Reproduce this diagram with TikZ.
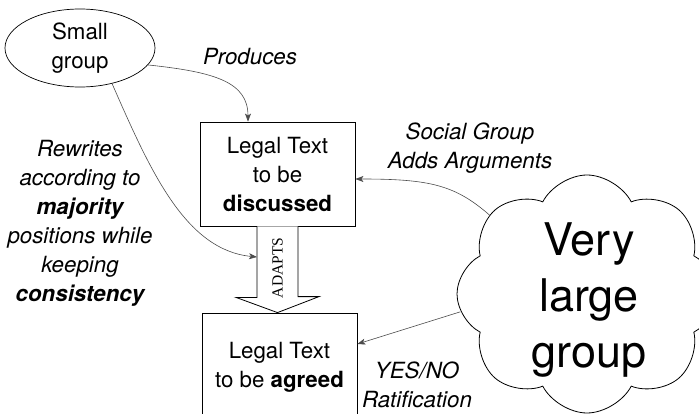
\documentclass[tikz,border=0pt]{standalone}
\usepackage{fontspec}
\setmainfont{TeX Gyre Heros}
\newfontfamily\adaptsfont{Liberation Serif}
\usetikzlibrary{shapes.geometric,shapes.symbols,arrows.meta}

\begin{document}
\begin{tikzpicture}[x=1pt,y=-1pt,
    every node/.style={font=\fontsize{22.3}{29}\selectfont, align=center},
    conn/.style={draw=black!70, line width=0.6pt, -{Stealth[length=8pt,width=6pt,inset=2pt]}},
    textbox/.style={draw, line width=0.8pt, minimum width=155pt, inner sep=0pt},
    note/.style={font=\fontsize{22.3}{29}\selectfont\itshape}]
    \useasboundingbox (0,0) rectangle (699,414);
    % the two groups
    \node[ellipse, draw, line width=0.7pt, minimum width=150pt, minimum height=78pt, inner sep=0pt] (small) at (80,48) {Small\\group};
    \node[cloud, draw, line width=0.8pt, cloud puffs=8, cloud puff arc=125, cloud ignores aspect,
          minimum width=260pt, minimum height=238pt, inner sep=0pt] (large) at (587,294) {};
    \node[font=\fontsize{45}{56}\selectfont] (largetxt) at (589,300) {Very\\large\\group};
    % the two texts
    \node[textbox, minimum height=104pt] (disc) at (277.5,174) {Legal Text\\to be\\\textbf{discussed}};
    \node[textbox, minimum height=108pt] (agr) at (279.5,367) {Legal Text\\to be \textbf{agreed}};
    % hollow arrow between them
    \draw[line width=0.8pt, fill=white] ([xshift=-20.5pt]disc.south)
        -- ++(0,71) -- ++(-21,0)
        -- (disc.south |- agr.north) % tip
        -- ++(41.5,-16) -- ++(-21,0)
        -- ([xshift=20.5pt]disc.south);
    \node[rotate=90, font=\adaptsfont\fontsize{15.5}{18}\selectfont] (adapts) at (277.5,268) {ADAPTS};
    \coordinate (shaftL) at (257,257);
    % connectors
    \draw[conn] (small.-14) .. controls (215,72) and (248,82) .. ([xshift=-29.5pt]disc.north);
    \draw[conn] (small.-48) .. controls (150,170) and (185,250) .. (shaftL);
    \draw[conn] (large.141) .. controls (455,185) and (430,179) .. ([yshift=-5pt]disc.east);
    \draw[conn] (large.188) -- ([yshift=23pt]agr.east);
    % labels
    \node[note] (prodlbl) at (250,57) {Produces};
    \node[note] (rewlbl) at (80,223) {Rewrites\\according to\\\textbf{majority}\\positions while\\keeping\\\textbf{consistency}};
    \node[note] (soclbl) at (470,148) {Social Group\\Adds Arguments};
    \node[note] (ratlbl) at (417,385) {YES/NO\\Ratification};
\end{tikzpicture}
\end{document}
